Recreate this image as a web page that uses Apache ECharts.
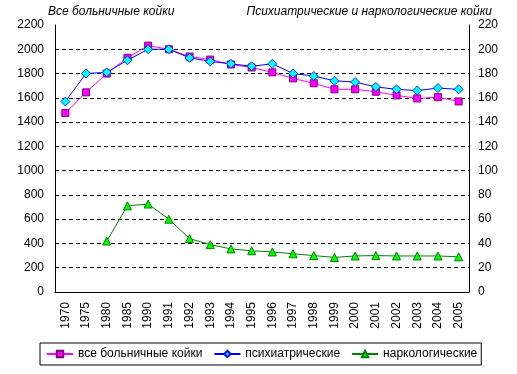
<!DOCTYPE html>
<html><head><meta charset="utf-8">
<script src="https://cdn.jsdelivr.net/npm/echarts@6/dist/echarts.min.js"></script>
<style>html,body{margin:0;padding:0;background:#fff}#c{width:517px;height:374px}</style>
</head><body><div id="c"></div>
<script>
const years = ['1970','1975','1980','1985','1990','1991','1992','1993','1994','1995','1996','1997','1998','1999','2000','2001','2002','2003','2004','2005'];
const allBeds = [1475,1645,1800,1930,2030,2000,1940,1915,1875,1850,1810,1760,1720,1670,1670,1650,1620,1595,1605,1570];
const psychiatric = [157,180,181,191,200,200,193,190,188,186,188,180,178,174,173,169,167,166,168,167];
const narcological = [null,null,42,71,72.5,60,44,39,35.5,34,33,31.5,30,28.5,29.7,30,29.7,29.7,29.7,29];
const leftTicks = {min:0,max:2200,interval:200};
const rightTicks = {min:0,max:220,interval:20};
const names = ['все больничные койки','психиатрические','наркологические'];
const leftTitle = 'Все больничные койки';
const rightTitle = 'Психиатрические и наркологические койки';

const font = 'Liberation Sans, Arial, sans-serif';
const chart = echarts.init(document.getElementById('c'), null, {renderer:'canvas'});
chart.setOption({
  animation:false,
  backgroundColor:'#fff',
  textStyle:{fontFamily:font},
  grid:{left:55,right:48,top:25,bottom:82},
  graphic:[
    {type:'text',left:48,top:6,style:{text:leftTitle,font:'italic 12px '+font,fill:'#000'}},
    {type:'text',right:25,top:6,style:{text:rightTitle,font:'italic 12px '+font,fill:'#000'}}
  ],
  legend:{
    left:40,top:343,
    padding:[5,4,5,6],
    borderColor:'#000',borderWidth:1,
    itemWidth:26,itemHeight:8,itemGap:11,
    textStyle:{fontSize:12,color:'#000',fontFamily:font},
    data:names
  },
  xAxis:{
    type:'category',data:years,boundaryGap:true,
    axisLine:{lineStyle:{color:'#000',width:1}},
    axisTick:{show:false},
    axisLabel:{rotate:90,fontSize:12,color:'#000',margin:10,interval:0,fontFamily:font}
  },
  yAxis:[
    {type:'value',min:leftTicks.min,max:leftTicks.max,interval:leftTicks.interval,
     axisLine:{show:true,lineStyle:{color:'#000'}},axisTick:{show:false},
     axisLabel:{fontSize:12,color:'#000',margin:11,fontFamily:font,formatter:v=>String(v)},
     splitLine:{show:true,showMaxLine:false,showMinLine:false,lineStyle:{color:'#000',type:[4,3],width:1}}},
    {type:'value',min:rightTicks.min,max:rightTicks.max,interval:rightTicks.interval,
     axisLine:{show:true,lineStyle:{color:'#000'}},axisTick:{show:false},
     axisLabel:{fontSize:12,color:'#000',margin:9,fontFamily:font,formatter:v=>String(v)},
     splitLine:{show:false}}
  ],
  series:[
    {name:names[0],type:'line',yAxisIndex:0,data:allBeds,symbol:'rect',symbolSize:7,
     lineStyle:{color:'#FF00FF',width:1},
     itemStyle:{color:'#FF00FF',borderColor:'#800080',borderWidth:1},z:3},
    {name:names[1],type:'line',yAxisIndex:1,data:psychiatric,symbol:'diamond',symbolSize:9,
     lineStyle:{color:'#0000FF',width:1},
     itemStyle:{color:'#00FFFF',borderColor:'#0000FF',borderWidth:0.8},z:4},
    {name:names[2],type:'line',yAxisIndex:1,data:narcological,symbol:'triangle',symbolSize:8,
     lineStyle:{color:'#008000',width:1},
     itemStyle:{color:'#00FF00',borderColor:'#008000',borderWidth:1},z:5}
  ]
});
</script></body></html>
